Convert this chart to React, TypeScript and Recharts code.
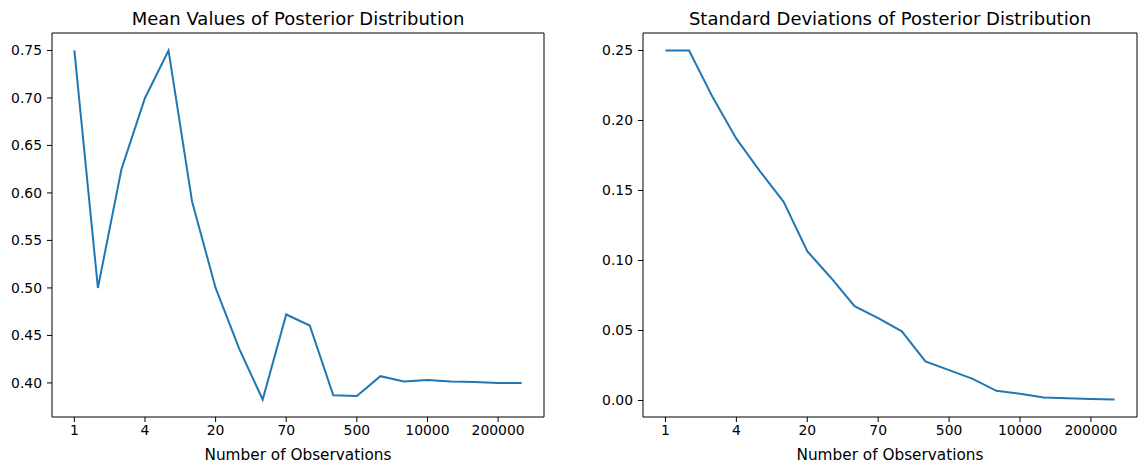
import React from "react";
import { LineChart, Line, XAxis, YAxis, ReferenceLine } from "recharts";

// number of observations (categorical x positions)
const observations = [
  1, 2, 3, 4, 5, 10, 20, 30, 50, 70, 100, 300, 500, 1000, 5000, 10000, 50000,
  100000, 200000, 500000,
];
const meanValues = [
  0.75, 0.5, 0.625, 0.7, 0.75, 0.591, 0.5, 0.436, 0.3825, 0.472, 0.4604,
  0.387, 0.3862, 0.4071, 0.4015, 0.403, 0.4015, 0.401, 0.4, 0.3998,
];
const stdValues = [
  0.25, 0.25, 0.2165, 0.187, 0.1637, 0.1419, 0.1066, 0.0877, 0.0674, 0.0588,
  0.0494, 0.028, 0.0217, 0.0155, 0.0069, 0.0049, 0.0022, 0.00155, 0.0011,
  0.0007,
];
const xTickIdx = [0, 3, 6, 9, 12, 15, 18];
const meanTicks = [0.4, 0.45, 0.5, 0.55, 0.6, 0.65, 0.7, 0.75];
const stdTicks = [0, 0.05, 0.1, 0.15, 0.2, 0.25];

const data = observations.map((n, i) => ({
  idx: i,
  n,
  mean: meanValues[i],
  sd: stdValues[i],
}));

const FONT = "DejaVu Sans, sans-serif";
const BLUE = "#1f77b4";
const X_DOMAIN: [number, number] = [-0.95, observations.length - 1 + 0.95];

// matplotlib-style 5% margins
function pad(vals: number[]): [number, number] {
  const lo = Math.min(...vals);
  const hi = Math.max(...vals);
  const p = (hi - lo) * 0.05;
  return [lo - p, hi + p];
}

interface PanelProps {
  title: string;
  dataKey: string;
  values: number[];
  yTicks: number[];
  left: number;
  width: number;
  yAxisWidth: number;
  marginRight: number;
}

function Panel({ title, dataKey, values, yTicks, left, width, yAxisWidth, marginRight }: PanelProps) {
  const height = 471;
  const plotLeft = yAxisWidth;
  const plotRight = width - marginRight;
  const yDomain = pad(values);
  const tickStyle = { fill: "#000", fontSize: 13.9, fontFamily: FONT };
  return (
    <div style={{ position: "absolute", left, top: 0, width, height }}>
      <div
        style={{
          position: "absolute",
          top: 8,
          left: plotLeft,
          width: plotRight - plotLeft,
          textAlign: "center",
          fontSize: 18,
          fontFamily: FONT,
          color: "#000",
          lineHeight: "22px",
          whiteSpace: "nowrap",
        }}
      >
        {title}
      </div>
      <LineChart
        width={width}
        height={height}
        data={data}
        margin={{ top: 33, right: marginRight, bottom: 0, left: 0 }}
      >
        <XAxis
          dataKey="idx"
          type="number"
          domain={X_DOMAIN}
          allowDataOverflow
          ticks={xTickIdx}
          interval={0}
          tickFormatter={(v: number) => String(observations[v])}
          tick={tickStyle}
          tickSize={5}
          tickMargin={3}
          height={54}
          stroke="#000"
          axisLine={{ stroke: "#000", strokeWidth: 1 }}
          label={{
            value: "Number of Observations",
            position: "insideBottom",
            offset: 11,
            fill: "#000",
            fontSize: 15.3,
            fontFamily: FONT,
          }}
        />
        <YAxis
          type="number"
          domain={yDomain}
          ticks={yTicks}
          interval={0}
          allowDataOverflow
          tickFormatter={(v: number) => v.toFixed(2)}
          tick={tickStyle}
          tickSize={5}
          tickMargin={5}
          width={yAxisWidth}
          stroke="#000"
          axisLine={{ stroke: "#000", strokeWidth: 1 }}
        />
        {/* top and right spines */}
        <ReferenceLine y={yDomain[1]} stroke="#000" strokeWidth={1} ifOverflow="visible" />
        <ReferenceLine x={X_DOMAIN[1]} stroke="#000" strokeWidth={1} ifOverflow="visible" />
        <Line
          type="linear"
          dataKey={dataKey}
          stroke={BLUE}
          strokeWidth={2}
          dot={false}
          activeDot={false}
          isAnimationActive={false}
        />
      </LineChart>
    </div>
  );
}

export default function App() {
  return (
    <div
      style={{
        position: "absolute",
        left: 0,
        top: 0,
        width: 1145,
        height: 471,
        background: "#fff",
        overflow: "hidden",
      }}
    >
      <Panel
        title="Mean Values of Posterior Distribution"
        dataKey="mean"
        values={meanValues}
        yTicks={meanTicks}
        left={0}
        width={572}
        yAxisWidth={52}
        marginRight={28}
      />
      <Panel
        title="Standard Deviations of Posterior Distribution"
        dataKey="sd"
        values={stdValues}
        yTicks={stdTicks}
        left={572}
        width={573}
        yAxisWidth={71}
        marginRight={8}
      />
    </div>
  );
}
